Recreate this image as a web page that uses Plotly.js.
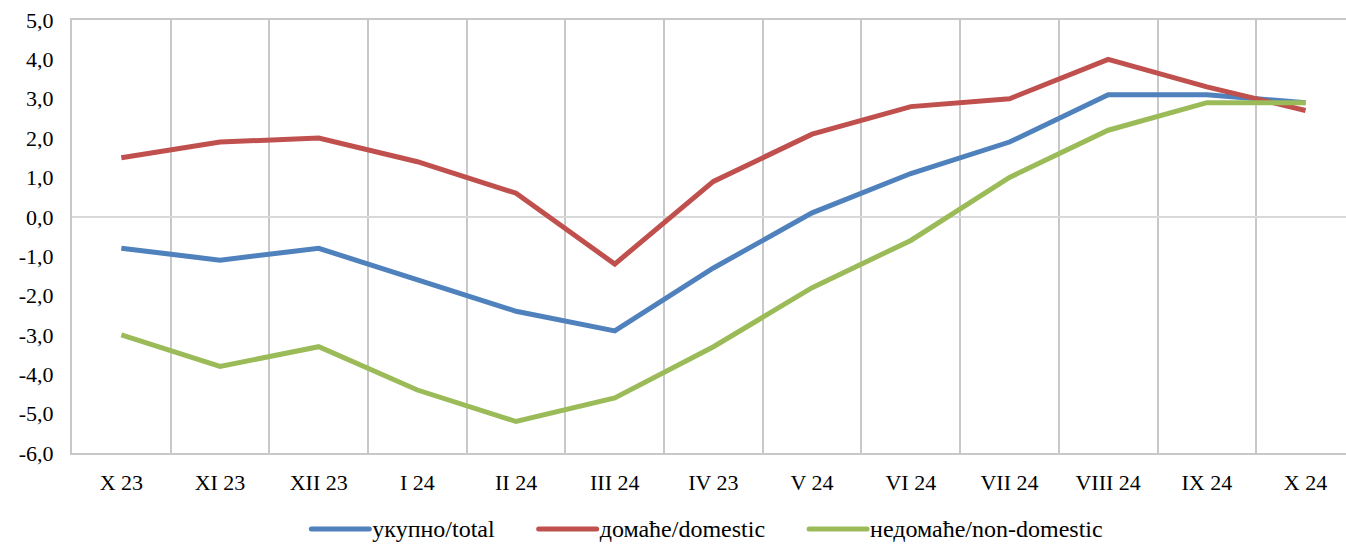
<!DOCTYPE html>
<html>
<head>
<meta charset="utf-8">
<script src="https://cdn.plot.ly/plotly-3.0.1.min.js"></script>
<style>html,body{margin:0;padding:0;background:#fff;}#chart{width:1346px;height:546px;}</style>
</head>
<body>
<div id="chart"></div>
<script>
const categories = ["X 23","XI 23","XII 23","I 24","II 24","III 24","IV 23","V 24","VI 24","VII 24","VIII 24","IX 24","X 24"];
const total = [-0.8,-1.1,-0.8,-1.6,-2.4,-2.9,-1.3,0.1,1.1,1.9,3.1,3.1,2.9];
const domestic = [1.5,1.9,2.0,1.4,0.6,-1.2,0.9,2.1,2.8,3.0,4.0,3.3,2.7];
const nonDomestic = [-3.0,-3.8,-3.3,-4.4,-5.2,-4.6,-3.3,-1.8,-0.6,1.0,2.2,2.9,2.9];
const yTickValues = [-6,-5,-4,-3,-2,-1,0,1,2,3,4,5];
const yTickLabels = ["-6,0","-5,0","-4,0","-3,0","-2,0","-1,0","0,0","1,0","2,0","3,0","4,0","5,0"];
const names = ["укупно/total","домаће/domestic","недомаће/non-domestic"];
const colors = ["#4F81BD","#C0504D","#9BBB59"];
const series = [total, domestic, nonDomestic];

const traces = series.map((s,i)=>({
  x: categories, y: s, name: names[i], type:'scatter', mode:'lines',
  line:{color:colors[i], width:5}
}));

const mkFont = () => ({family:'Liberation Serif', size:22, color:'#000'});
const LEG_SIZE = 24;
const layout = {
  width:1346, height:546,
  margin:{l:72, r:0, t:20, b:93, autoexpand:false},
  paper_bgcolor:'#fff', plot_bgcolor:'#fff',
  font: mkFont(),
  showlegend:true,
  legend:{orientation:'h', x:0.5, xanchor:'center', xref:'paper', yref:'container', y:0.06, yanchor:'middle',
          font:{family:'Liberation Serif', size:LEG_SIZE, color:'#000'}, itemwidth:40, tracegroupgap:0},
  xaxis:{type:'category', range:[-0.5,12.41], tickson:'boundaries', showgrid:true, gridcolor:'#C8C8C8', gridwidth:2,
         showline:true, linecolor:'#C8C8C8', linewidth:2, mirror:true, ticks:'', ticklabelstandoff:9, tickfont:mkFont(), fixedrange:true, automargin:false},
  yaxis:{range:[-6,5], tickvals:yTickValues, ticktext:yTickLabels, showgrid:false, zeroline:true, zerolinecolor:'#D9D9D9', zerolinewidth:2,
         showline:true, linecolor:'#C8C8C8', linewidth:2, ticks:'', ticklabelstandoff:12, tickfont:mkFont(), fixedrange:true, automargin:false}
};
Plotly.newPlot('chart', traces, layout, {displayModeBar:false, staticPlot:true}).then(gd => {
  try {
    const leg = gd.querySelector('g.legend');
    if (!leg) return;
    const sb = leg.querySelector('.scrollbox');
    if (sb) sb.removeAttribute('clip-path');
    leg.removeAttribute('clip-path');
    const bg = leg.querySelector('rect.bg');
    if (bg) bg.style.display = 'none';
    const m = /translate\(\s*([-\d.e]+)[\s,]+([-\d.e]+)\s*\)/.exec(leg.getAttribute('transform') || 'translate(0,0)');
    const lx = m ? +m[1] : 0, ly = m ? +m[2] : 0;
    const items = Array.from(leg.querySelectorAll('g.traces'));
    const lineW = 58, textGap = 3, itemGap = 44, centerX = 707, centerY = 529;
    const widths = items.map(it => {
      const t = it.querySelector('text.legendtext');
      t.style.fontFamily = '"Liberation Serif", serif';
      t.style.fontSize = LEG_SIZE + 'px';
      return t.getComputedTextLength();
    });
    const totalW = widths.reduce((a,w)=>a + lineW + textGap + w, 0) + itemGap*(items.length-1);
    let cur = centerX - totalW/2;
    items.forEach((it, i) => {
      it.setAttribute('transform', `translate(${cur - lx},${centerY - ly})`);
      const p = it.querySelector('.legendlines path');
      if (p) { p.setAttribute('d', `M0,0h${lineW}`); p.style.strokeLinecap = 'round'; }
      const t = it.querySelector('text.legendtext');
      t.setAttribute('x', lineW + textGap);
      t.setAttribute('y', Math.round(LEG_SIZE*0.32));
      t.querySelectorAll('tspan').forEach(s => { if (s.hasAttribute('x')) s.setAttribute('x', lineW + textGap); });
      cur += lineW + textGap + widths[i] + itemGap;
    });
  } catch(e) { console.error(e); }
});
</script>
</body>
</html>
